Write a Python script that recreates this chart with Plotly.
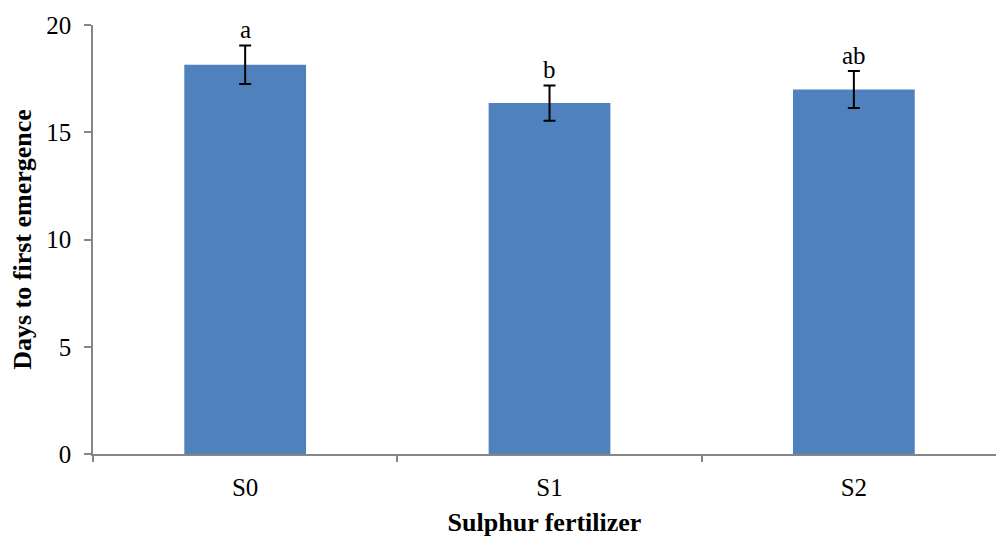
import plotly.graph_objects as go

# Days to first emergence under each sulphur fertilizer level
treatments = ["S0", "S1", "S2"]
days_mean = [18.15, 16.36, 16.99]
days_err = [0.9, 0.82, 0.86]
group_letters = ["a", "b", "ab"]

BAR_COLOR = "#4F81BD"
AXIS_COLOR = "#868686"
FONT = "Liberation Serif"

fig = go.Figure()
fig.add_trace(go.Bar(
    x=treatments,
    y=days_mean,
    width=0.4,
    marker=dict(color=BAR_COLOR, line=dict(width=0)),
    error_y=dict(type="data", array=days_err, visible=True,
                 color="black", thickness=2, width=6),
    hoverinfo="x+y",
))

# Significance letters above each error bar
for t, m, e, lab in zip(treatments, days_mean, days_err, group_letters):
    fig.add_annotation(x=t, y=m + e, text=lab, showarrow=False,
                       yanchor="bottom", yshift=0,
                       font=dict(family=FONT, size=25, color="black"))

fig.update_layout(
    width=996, height=537,
    margin=dict(l=93, r=0, t=25, b=83),
    paper_bgcolor="white", plot_bgcolor="white",
    showlegend=False,
    font=dict(family=FONT, color="black"),
    bargap=0.6,
)

fig.update_xaxes(
    range=[-0.5, 2.467],
    showline=True, linecolor=AXIS_COLOR, linewidth=1.5,
    ticks="outside", tickson="boundaries", ticklen=6,
    tickcolor=AXIS_COLOR, tickwidth=1.5,
    tickfont=dict(family=FONT, size=25, color="black"),
    ticklabelstandoff=10,
    title=dict(text="<b>Sulphur fertilizer</b>",
               font=dict(family=FONT, size=26, color="black"),
               standoff=18),
    showgrid=False, zeroline=False,
)

fig.update_yaxes(
    range=[0, 20], tickvals=[0, 5, 10, 15, 20],
    showline=True, linecolor=AXIS_COLOR, linewidth=1.5,
    ticks="outside", ticklen=7, tickcolor=AXIS_COLOR, tickwidth=1.5,
    tickfont=dict(family=FONT, size=25, color="black"),
    ticklabelstandoff=8,
    title=dict(text="<b>Days to first emergence</b>",
               font=dict(family=FONT, size=26, color="black"),
               standoff=7),
    showgrid=False, zeroline=False,
)

fig.write_html("out.html")
